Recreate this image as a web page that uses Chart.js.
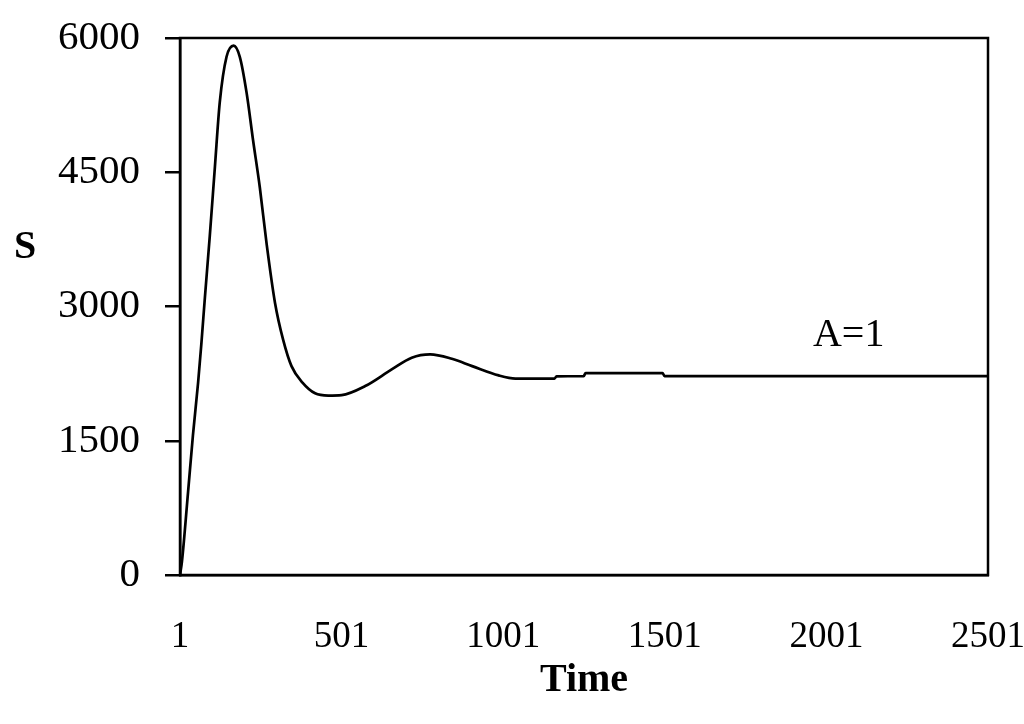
<!DOCTYPE html>
<html>
<head>
<meta charset="utf-8">
<script src="https://cdn.jsdelivr.net/npm/chart.js@4/dist/chart.umd.min.js"></script>
<style>
  html, body { margin: 0; padding: 0; background: #fff; }
  #wrap { width: 1024px; height: 724px; }
</style>
</head>
<body>
<div id="wrap"><canvas id="myChart" width="1024" height="724"></canvas></div>
<script>
// values
var times = [1, 7, 26, 41, 57, 67, 78, 93, 109, 124, 145, 167, 186, 207, 227, 248, 269, 295, 320, 346, 380, 419, 460, 501, 574, 656, 718, 775, 842, 905, 987, 1039, 1160, 1166, 1250, 1256, 1494, 1500, 2501];
var sValues = [0, 150, 930, 1560, 2150, 2580, 3100, 3780, 4560, 5280, 5790, 5915, 5790, 5390, 4860, 4330, 3700, 3040, 2630, 2334, 2150, 2030, 2005, 2010, 2111, 2297, 2428, 2465, 2416, 2334, 2230, 2195, 2195, 2220, 2222, 2256, 2256, 2223, 2223];
var xTicks = [1, 501, 1001, 1501, 2001, 2501];
var yTicks = [0, 1500, 3000, 4500, 6000];

var ctx = document.getElementById("myChart").getContext("2d");
var serif = "'Liberation Serif', 'Times New Roman', serif";

var points = times.map(function(t, i) { return {x: t, y: sValues[i]}; });

// frame box + the loose labels ("S" and "A=1")
var extras = {
  id: 'extras',
  afterDraw: function(chart) {
    var c = chart.ctx, a = chart.chartArea;
    var xs = chart.scales.x, ys = chart.scales.y;
    c.save();
    c.strokeStyle = '#000';
    c.lineWidth = 2.5;
    c.strokeRect(a.left, a.top, a.right - a.left, a.bottom - a.top);
    c.fillStyle = '#000';
    c.textAlign = 'center';
    c.textBaseline = 'middle';
    c.font = "bold 40px " + serif;
    c.fillText('S', 25, ys.getPixelForValue(3660));
    c.font = "40px " + serif;
    c.fillText('A=1', xs.getPixelForValue(2070), ys.getPixelForValue(2680));
    c.restore();
  }
};

var myChart = new Chart(ctx, {
  type: 'line',
  data: {
    datasets: [{
      data: points,
      borderColor: '#000',
      borderWidth: 2.7,
      pointRadius: 0,
      fill: false,
      cubicInterpolationMode: 'monotone'
    }]
  },
  options: {
    responsive: false,
    animation: false,
    layout: { padding: { top: 38, left: 33, right: 36, bottom: 23 } },
    plugins: { legend: { display: false }, tooltip: { enabled: false } },
    scales: {
      x: {
        type: 'linear',
        min: 1,
        max: 2501,
        afterBuildTicks: function(axis) { axis.ticks = xTicks.map(function(v) { return {value: v}; }); },
        afterFit: function(axis) { axis.paddingLeft = 0; axis.paddingRight = 0; },
        grid: { display: false, drawTicks: false },
        border: { display: true, color: '#000', width: 2.5 },
        ticks: {
          color: '#000', padding: 44, maxRotation: 0, autoSkip: false,
          font: { family: serif, size: 37, lineHeight: 1 },
          callback: function(v) { return String(v); }
        },
        title: { display: true, text: 'Time', color: '#000', padding: { top: -39, bottom: 0 }, font: { family: serif, size: 40, weight: 'bold', lineHeight: 1 } }
      },
      y: {
        min: 0,
        max: 6000,
        afterBuildTicks: function(axis) { axis.ticks = yTicks.map(function(v) { return {value: v}; }); },
        afterFit: function(axis) { axis.paddingTop = 0; axis.paddingBottom = 0; },
        grid: { drawOnChartArea: false, drawTicks: true, tickLength: 15, color: '#000', lineWidth: 2.5 },
        border: { display: true, color: '#000', width: 2.5 },
        ticks: {
          color: '#000', padding: 25,
          font: { family: serif, size: 41, lineHeight: 1 },
          callback: function(v) { return String(v); }
        }
      }
    }
  },
  plugins: [extras]
});
</script>
</body>
</html>
